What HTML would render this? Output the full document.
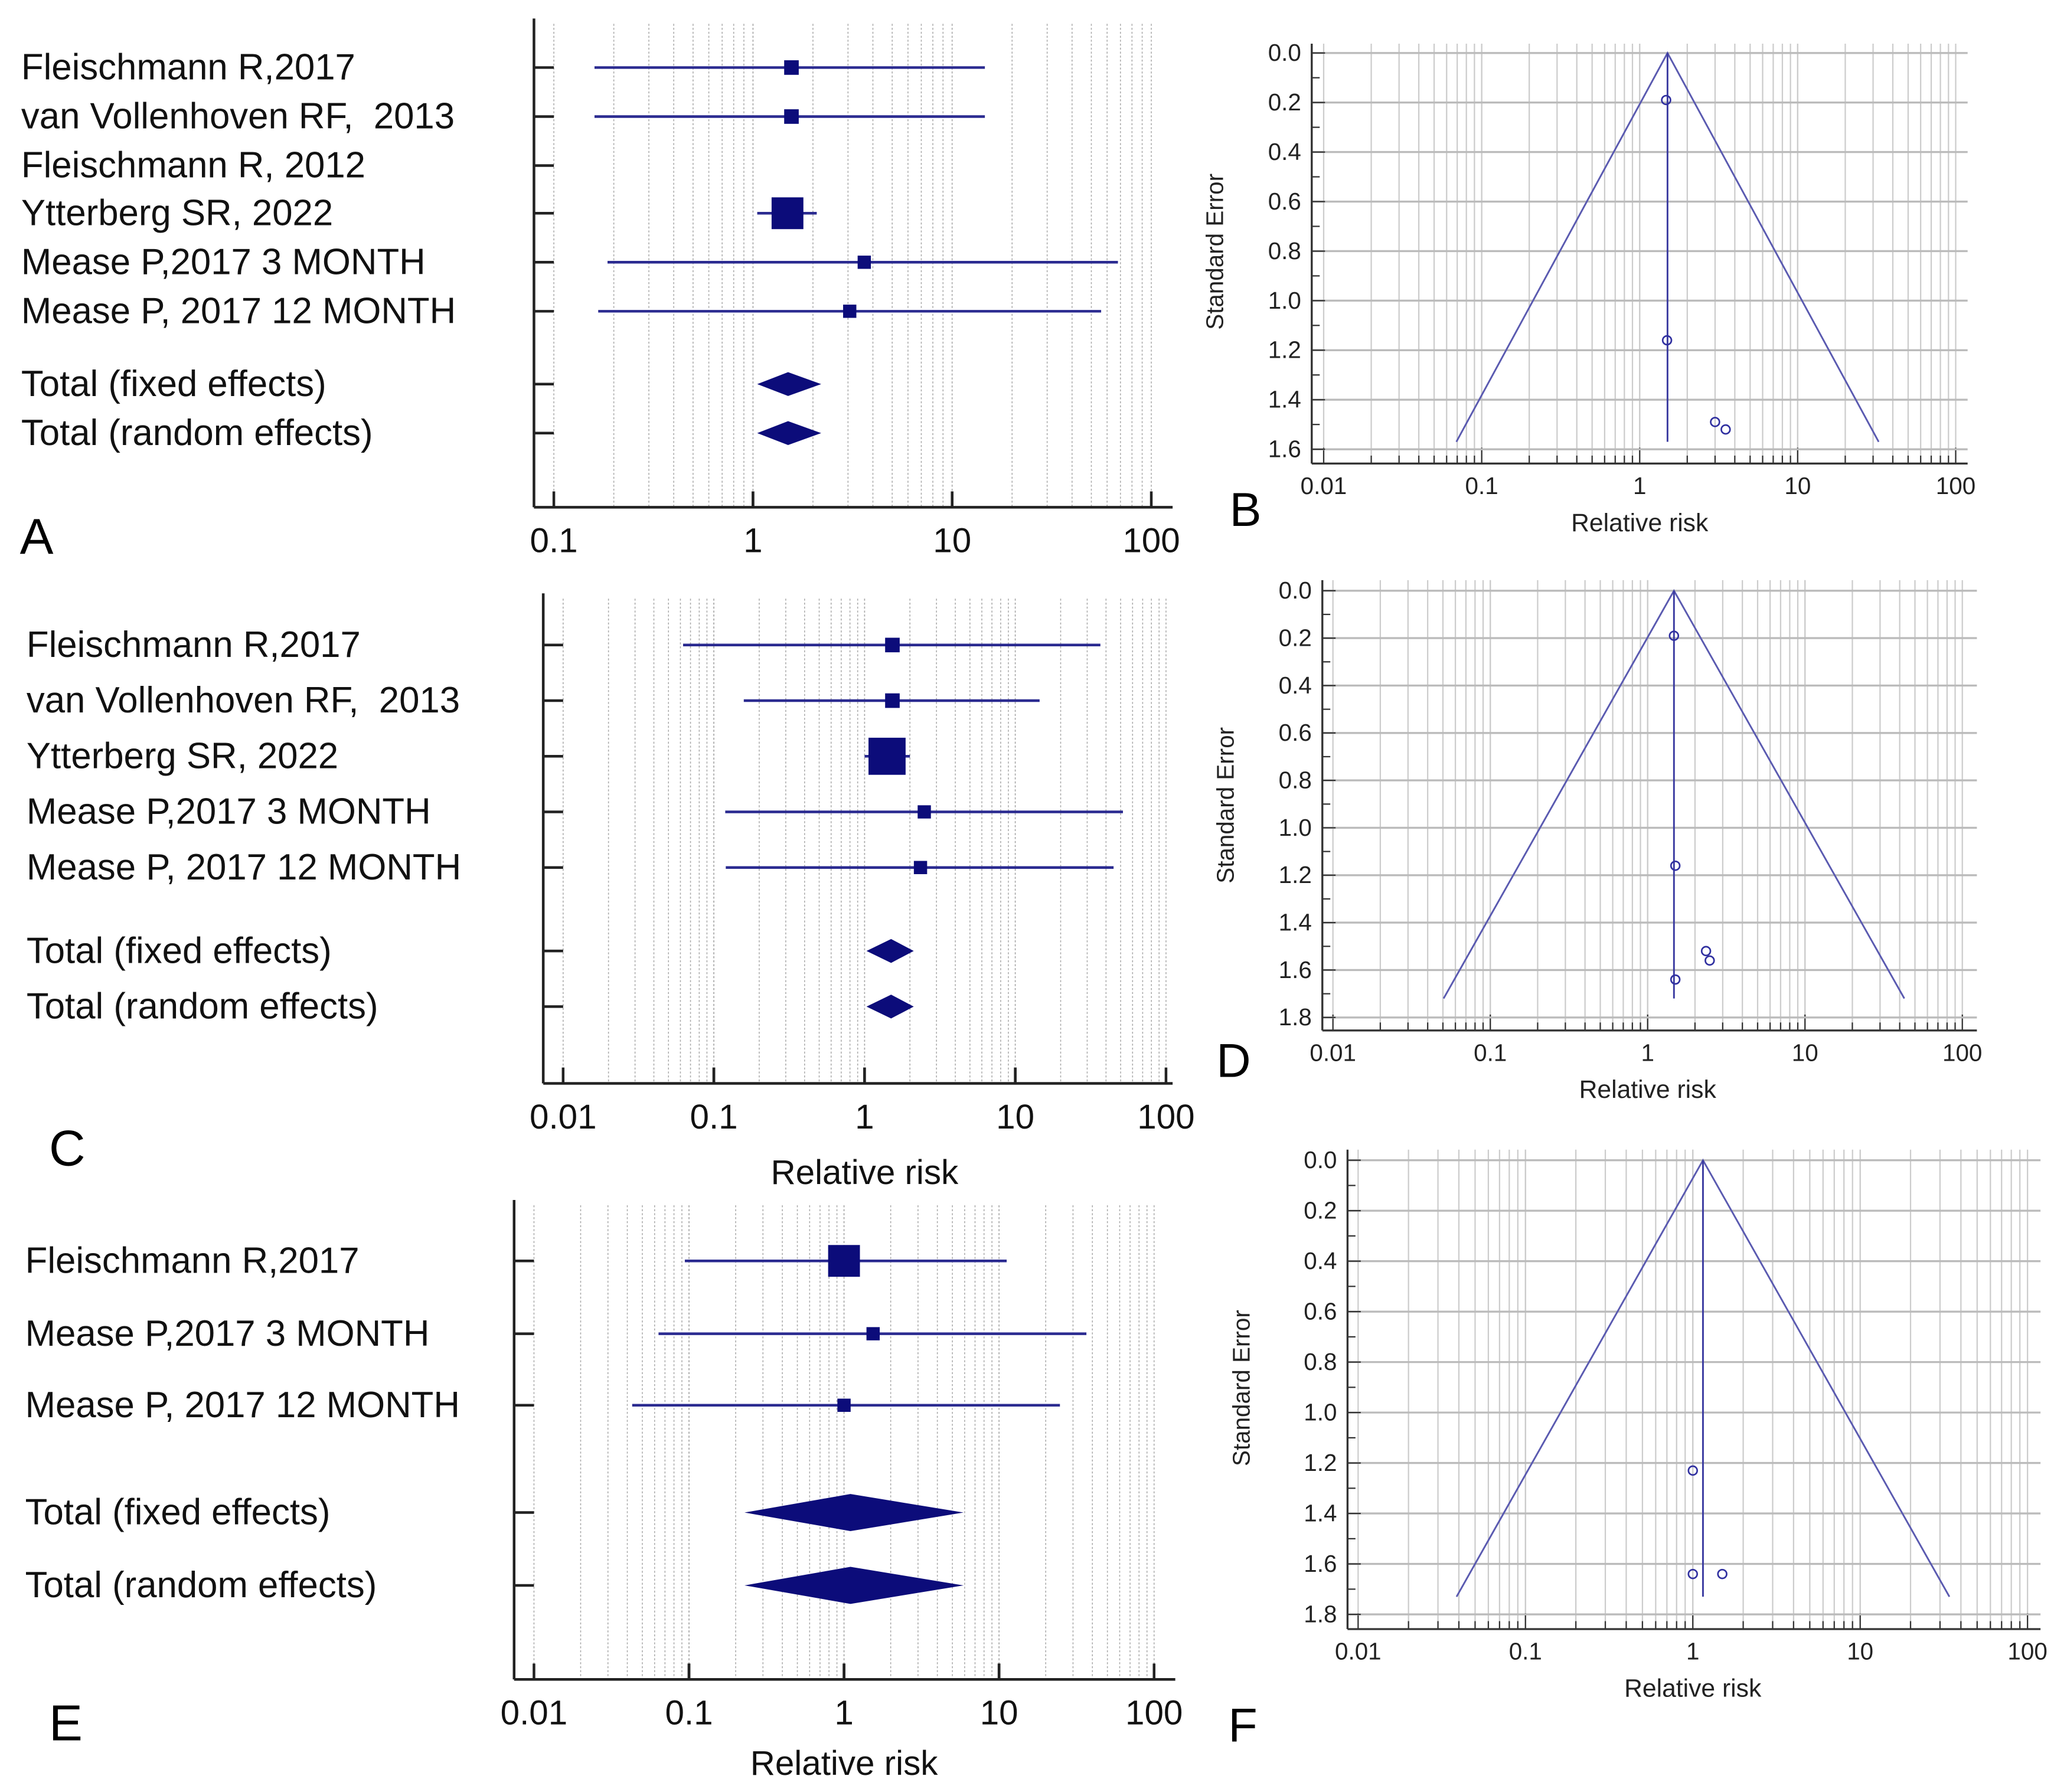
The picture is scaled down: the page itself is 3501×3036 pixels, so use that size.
<!DOCTYPE html>
<html><head><meta charset="utf-8"><style>
html,body{margin:0;padding:0;background:#fff}
svg{display:block}
text{font-family:"Liberation Sans",sans-serif;white-space:pre}
</style></head><body>
<svg id="fig" width="3501" height="3036" viewBox="0 0 1560 1353" preserveAspectRatio="none" xmlns="http://www.w3.org/2000/svg" xml:space="preserve"></svg>
<script>
// ---------- data ----------
const aLabels=["Fleischmann R,2017","van Vollenhoven RF,  2013","Fleischmann R, 2012","Ytterberg SR, 2022","Mease P,2017 3 MONTH","Mease P, 2017 12 MONTH"];
const aEst=[1.56,1.56,null,1.49,3.62,3.06];
const aLo=[0.16,0.16,null,1.05,0.186,0.167];
const aHi=[14.6,14.6,null,2.09,68,56];
const aSize=[11,11,0,24,10,10];
const aPooled=[1.5,1.5]; const aPLo=[1.05,1.05]; const aPHi=[2.2,2.2];

const cLabels=["Fleischmann R,2017","van Vollenhoven RF,  2013","Ytterberg SR, 2022","Mease P,2017 3 MONTH","Mease P, 2017 12 MONTH"];
const cEst=[1.53,1.53,1.41,2.49,2.35];
const cLo=[0.0625,0.158,1.0,0.119,0.12];
const cHi=[36.7,14.5,2.0,51.8,44.9];
const cSize=[11,11,28,10,10];
const cPooled=[1.5,1.5]; const cPLo=[1.03,1.03]; const cPHi=[2.12,2.12];

const eLabels=["Fleischmann R,2017","Mease P,2017 3 MONTH","Mease P, 2017 12 MONTH"];
const eEst=[1.0,1.54,1.0];
const eLo=[0.094,0.0636,0.043];
const eHi=[11.2,36.6,24.7];
const eSize=[24,10,10];
const ePooled=[1.1,1.1]; const ePLo=[0.228,0.228]; const ePHi=[5.9,5.9];

const bRR=[1.47,1.49,3.0,3.5]; const bSE=[0.19,1.16,1.49,1.52]; const bCenter=1.5; const bMaxSE=1.57;
const dRR=[1.47,1.5,2.35,2.48,1.5]; const dSE=[0.19,1.16,1.52,1.56,1.64]; const dCenter=1.47; const dMaxSE=1.72;
const fRR=[1.0,1.0,1.5]; const fSE=[1.23,1.64,1.64]; const fCenter=1.15; const fMaxSE=1.73;

// ---------- helpers ----------
const svg=document.getElementById('fig');
const NS='http://www.w3.org/2000/svg';
function mk(tag,attrs,parent){const e=document.createElementNS(NS,tag);for(const k in attrs)e.setAttribute(k,attrs[k]);(parent||svg).appendChild(e);return e;}
function txt(s,x,y,size,anchor,parent,fill){const t=mk('text',{x:x,y:y,'font-size':size,'text-anchor':anchor||'start',fill:fill||'#111'},parent);t.textContent=s;return t;}
const NAVY='#0c0c7a';

function forest(cfg){
  const g=mk('g',{});
  
  
  const X=v=>cfg.x0+Math.log10(v/cfg.minV)*cfg.dec;
  for(let d=cfg.minV; d<cfg.maxV*0.99; d*=10){
    for(let k=1;k<=10;k++){
      const v=d*k; if(v>cfg.maxV*1.001) break;
      const x=X(v);
      const l=mk('line',{x1:x,x2:x,y1:cfg.top,y2:cfg.bottom,stroke:'#aaa','stroke-width':0.7,'stroke-dasharray':'1.5,1.5'},g);
      
      
      if(k===1||k===10){mk('line',{x1:x,x2:x,y1:cfg.bottom,y2:cfg.bottom-12,stroke:'#222','stroke-width':2},g);}
    }
  }
  mk('line',{x1:cfg.axX,x2:cfg.axX,y1:cfg.top-4,y2:cfg.bottom,stroke:'#222','stroke-width':2},g);
  mk('line',{x1:cfg.axX,x2:cfg.axR,y1:cfg.bottom,y2:cfg.bottom,stroke:'#222','stroke-width':2},g);
  cfg.ticks.forEach(v=>{const t=txt(String(v),X(v),cfg.bottom+34,26,'middle',g);
    
    });
  const rows=cfg.rows;
  const all=cfg.labels.concat(["Total (fixed effects)","Total (random effects)"]);
  all.forEach((lab,i)=>{
    const y=rows[i];
    mk('line',{x1:cfg.axX,x2:cfg.axX+15,y1:y,y2:y,stroke:'#222','stroke-width':2},g);
    const t=txt(lab,cfg.labX,y+9,27.5,'start',g);
    
    
  });
  cfg.est.forEach((e,i)=>{
    if(e==null) return;
    const y=rows[i];
    const l=mk('line',{x1:X(cfg.lo[i]),x2:X(cfg.hi[i]),y1:y,y2:y,stroke:'#2a2a90','stroke-width':2},g);
    
    
    const s=cfg.size[i];
    const r=mk('rect',{x:X(e)-s/2,y:y-s/2,width:s,height:s,fill:NAVY},g);
    
    
  });
  cfg.pooled.forEach((p,j)=>{
    const y=rows[cfg.labels.length+j];const h=cfg.dh;
    const d=mk('polygon',{points:`${X(cfg.plo[j])},${y} ${X(p)},${y-h/2} ${X(cfg.phi[j])},${y} ${X(p)},${y+h/2}`,fill:NAVY},g);
    
    
  });
  if(cfg.xlabel){const t=txt('Relative risk',X(1),cfg.xlabelY,26,'middle',g);
    
    }
  const L=txt(cfg.letter,cfg.letX,cfg.letY,38,'start',g,'#000');
  
  
}

function funnel(cfg){
  const g=mk('g',{});
  
  
  const X=v=>cfg.x01+Math.log10(v/0.01)*cfg.dec;
  const Y=s=>cfg.y0+s*cfg.per;
  for(let d=0.01; d<99; d*=10){
    for(let k=1;k<=10;k++){
      const x=X(d*k);
      const l=mk('line',{x1:x,x2:x,y1:cfg.top,y2:cfg.bottom,stroke:'#ccc','stroke-width':1},g);
      
      
      mk('line',{x1:x,x2:x,y1:cfg.bottom,y2:cfg.bottom-(k===1||k===10?12:6),stroke:'#333','stroke-width':1},g);
    }
  }
  for(let i=0;i<=cfg.maxTick*10+0.1;i++){
    const s=i/10,y=Y(s);
    if(i%2===0){
      mk('line',{x1:cfg.left,x2:cfg.right,y1:y,y2:y,stroke:'#bbb','stroke-width':1.5},g);
      mk('line',{x1:cfg.left,x2:cfg.left+10,y1:y,y2:y,stroke:'#333','stroke-width':1},g);
      const t=txt(s.toFixed(1),cfg.left-8,y+6,18,'end',g,'#222');
      
      
    } else mk('line',{x1:cfg.left,x2:cfg.left+6,y1:y,y2:y,stroke:'#333','stroke-width':1},g);
  }
  mk('line',{x1:cfg.left,x2:cfg.left,y1:cfg.top,y2:cfg.bottom,stroke:'#333','stroke-width':1.5},g);
  mk('line',{x1:cfg.left,x2:cfg.right,y1:cfg.bottom,y2:cfg.bottom,stroke:'#333','stroke-width':1.5},g);
  [0.01,0.1,1,10,100].forEach(v=>{const t=txt(String(v),X(v),cfg.bottom+23,18,'middle',g,'#222');
    
    });
  const c=cfg.center, ms=cfg.maxSE;
  const lx=X(c*Math.exp(-1.96*ms)), rx=X(c*Math.exp(1.96*ms));
  const p=mk('polyline',{points:`${lx},${Y(ms)} ${X(c)},${Y(0)} ${rx},${Y(ms)}`,fill:'none',stroke:'#5a5ab0','stroke-width':1.3},g);
  
  
  const v=mk('line',{x1:X(c),x2:X(c),y1:Y(0),y2:Y(ms),stroke:'#3a3aa0','stroke-width':1.3},g);
  
  
  cfg.rr.forEach((r,i)=>{
    const ci=mk('circle',{cx:X(r),cy:Y(cfg.se[i]),r:3.3,fill:'none',stroke:'#3030a0','stroke-width':1.2},g);
    
    
  });
  const xt=txt('Relative risk',X(1),cfg.bottom+51,19,'middle',g,'#222');
  
  
  const yt=txt('Standard Error',0,0,18,'middle',g,'#222');
  yt.setAttribute('transform',`translate(${cfg.ylabX},${cfg.ylabY}) rotate(-90)`);
  
  
  const L=txt(cfg.letter,cfg.letX,cfg.letY,36,'start',g,'#000');
  
  
}

forest({name:'forest-plot-a',x0:418,minV:0.1,maxV:100,dec:150.3,top:18,bottom:383,axX:403,axR:885,ticks:[0.1,1,10,100],
  rows:[51,88,125,161,198,235,290,327],labels:aLabels,est:aEst,lo:aLo,hi:aHi,size:aSize,pooled:aPooled,plo:aPLo,phi:aPHi,dh:18,
  labX:16,letter:'A',letX:15,letY:418});
forest({name:'forest-plot-c',x0:425,minV:0.01,maxV:100,dec:113.75,top:452,bottom:818,axX:410,axR:885,ticks:[0.01,0.1,1,10,100],
  rows:[487,529,571,613,655,718,760],labels:cLabels,est:cEst,lo:cLo,hi:cHi,size:cSize,pooled:cPooled,plo:cPLo,phi:cPHi,dh:18,
  labX:20,letter:'C',letX:37,letY:880,xlabel:true,xlabelY:894});
forest({name:'forest-plot-e',x0:403,minV:0.01,maxV:100,dec:117,top:910,bottom:1268,axX:388,axR:887,ticks:[0.01,0.1,1,10,100],
  rows:[952,1007,1061,1142,1197],labels:eLabels,est:eEst,lo:eLo,hi:eHi,size:eSize,pooled:ePooled,plo:ePLo,phi:ePHi,dh:28,
  labX:19,letter:'E',letX:37,letY:1314,xlabel:true,xlabelY:1340});

funnel({name:'funnel-plot-b',x01:999,dec:119.25,y0:40,per:187,top:33,bottom:350,left:990,right:1485,maxTick:1.6,
  rr:bRR,se:bSE,center:bCenter,maxSE:bMaxSE,ylabX:923,ylabY:190,letter:'B',letX:928,letY:397});
funnel({name:'funnel-plot-d',x01:1006,dec:118.75,y0:446,per:179,top:438,bottom:778,left:998,right:1492,maxTick:1.8,
  rr:dRR,se:dSE,center:dCenter,maxSE:dMaxSE,ylabX:931,ylabY:608,letter:'D',letX:918,letY:813});
funnel({name:'funnel-plot-f',x01:1025,dec:126.3,y0:876,per:190.5,top:868,bottom:1230,left:1017,right:1540,maxTick:1.8,
  rr:fRR,se:fSE,center:fCenter,maxSE:fMaxSE,ylabX:943,ylabY:1048,letter:'F',letX:927,letY:1315});
</script>
</body></html>
